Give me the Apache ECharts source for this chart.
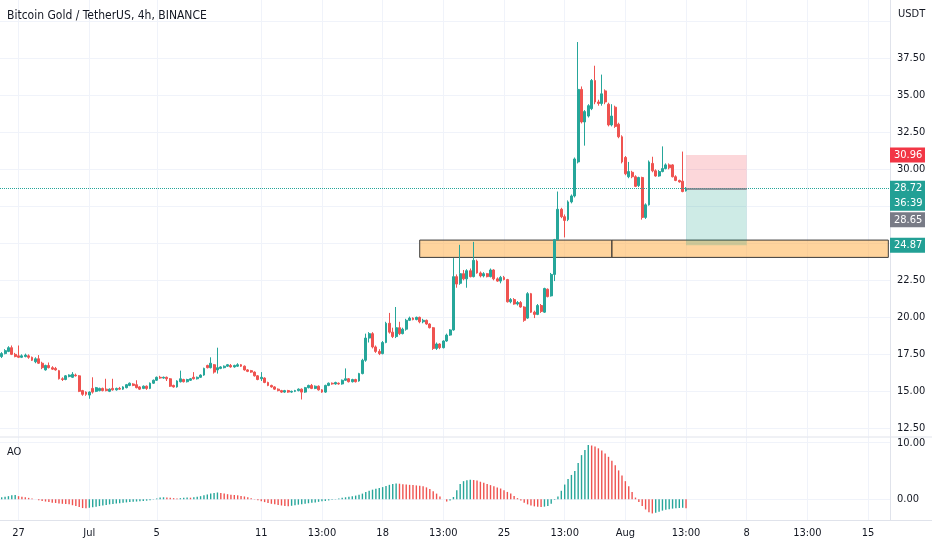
<!DOCTYPE html>
<html><head><meta charset="utf-8">
<script src="https://cdn.jsdelivr.net/npm/echarts@6/dist/echarts.min.js"></script>
<style>html,body{margin:0;padding:0;background:#fff}#c{width:932px;height:550px}</style>
</head><body><div id="c"></div>
<script>
// ---------- data ----------
const titleText = 'Bitcoin Gold / TetherUS, 4h, BINANCE';
const quoteUnit = 'USDT';
const indicatorName = 'AO';

const opens = [17.35,17.55,17.7,17.95,17.5,17.4,17.3,17.35,17.4,17.3, 17.0,17.2,16.9,16.45,16.75,16.6,16.55,16.4,15.85,15.8,
 16.0,15.95,16.1,16.05,15.05,14.95,14.75,15.2,15.0,15.05, 15.2,15.15,15.0,15.2,15.1,15.2,15.15,15.25,15.4,15.5,
 15.45,15.3,15.2,15.35,15.2,15.55,15.75,15.95,15.9,15.95, 15.85,15.4,15.3,15.65,15.8,15.65,15.75,15.95,15.85,15.95,
 16.1,16.75,16.6,16.8,16.45,16.55,16.6,16.7,16.75,16.65, 16.7,16.8,16.7,16.45,16.4,16.3,16.05,15.85,15.9,15.6,
 15.4,15.3,15.15,15.05,14.95,15.05,14.95,15.0,15.05,15.15, 14.95,15.25,15.4,15.2,15.35,15.1,14.95,15.4,15.55,15.5,
 15.55,15.5,15.75,15.85,15.65,15.8,15.7,16.2,17.1,18.6, 18.9,18.0,17.7,17.55,18.3,19.6,19.0,18.7,19.3,18.9,
 19.2,19.8,19.95,19.85,20.0,19.7,19.8,19.55,19.3,17.9, 18.2,17.95,18.4,18.8,19.15,22.75,22.3,22.95,22.6,23.15,
 22.75,23.8,23.0,22.8,22.95,22.75,23.2,22.6,22.45,22.7, 22.55,21.05,21.2,20.9,21.0,20.7,19.95,21.6,20.35,20.2,
 20.8,20.35,21.9,21.45,22.9,25.25,27.3,26.8,26.6,27.8, 28.2,30.5,35.4,33.2,33.6,34.1,36.0,34.55,34.45,35.3,
 34.4,33.0,34.2,33.05,32.2,30.8,29.5,29.8,29.5,28.9, 29.45,26.75,27.6,30.4,29.9,29.55,29.85,30.05,30.3,30.3,
 29.5,29.25,29.2,28.55];
const closes = [17.55,17.75,17.95,17.5,17.35,17.3,17.4,17.45,17.3,17.1, 17.2,16.9,16.6,16.75,16.6,16.5,16.45,15.85,15.8,16.05,
 16.1,16.15,16.05,15.0,14.8,14.8,14.95,14.95,15.25,15.2, 15.05,15.05,15.15,15.1,15.2,15.15,15.3,15.45,15.55,15.4,
 15.25,15.15,15.35,15.2,15.55,15.75,15.95,15.9,15.95,15.85, 15.35,15.3,15.7,15.85,15.65,15.8,15.85,15.85,15.95,16.1,
 16.55,16.6,16.9,16.3,16.6,16.65,16.7,16.8,16.65,16.75, 16.8,16.7,16.45,16.35,16.3,16.05,15.8,15.95,15.6,15.4,
 15.3,15.15,15.05,14.95,15.05,14.95,15.0,15.05,15.15,14.95, 15.25,15.4,15.2,15.35,15.1,14.95,15.4,15.55,15.5,15.6,
 15.5,15.75,15.85,15.65,15.8,15.65,16.2,17.1,18.6,18.9, 18.0,17.7,17.55,18.3,19.6,19.0,18.7,19.3,18.9,19.2,
 19.8,19.95,19.85,20.0,19.7,19.8,19.55,19.3,17.9,18.2, 17.95,18.4,18.8,19.15,22.75,22.25,22.95,22.6,23.15,22.75,
 23.85,23.0,22.8,22.95,22.75,23.2,22.6,22.45,22.7,22.55, 21.05,21.2,20.9,21.0,20.7,19.8,21.6,20.35,20.2,20.8,
 20.4,21.95,21.4,22.9,25.25,27.3,26.8,26.55,27.8,28.2, 30.7,35.4,33.2,33.9,34.3,36.0,34.55,34.45,35.1,34.55,
 33.0,33.6,32.9,32.2,30.5,29.7,29.85,29.5,28.85,29.45, 26.75,27.6,30.5,29.9,29.55,29.85,30.05,30.3,30.1,29.5,
 29.25,29.15,28.5,28.72];
const lows = [17.25,17.5,17.65,17.45,17.3,17.25,17.25,17.3,17.2,17.05, 16.9,16.85,16.5,16.4,16.55,16.45,16.4,15.8,15.7,15.75,
 15.95,15.9,16.0,14.95,14.7,14.7,14.5,14.85,14.95,15.0, 15.0,15.0,14.95,15.05,15.05,15.1,15.1,15.2,15.35,15.35,
 15.2,15.1,15.15,15.1,15.15,15.5,15.7,15.85,15.85,15.7, 15.3,15.25,15.25,15.6,15.6,15.6,15.7,15.8,15.8,15.9,
 16.05,16.55,16.55,16.2,16.2,16.5,16.55,16.65,16.6,16.6, 16.65,16.65,16.4,16.3,16.25,16.0,15.75,15.7,15.55,15.35,
 15.25,15.1,15.0,14.9,14.9,14.9,14.9,14.95,15.0,14.45, 14.9,15.2,15.15,15.15,15.05,14.9,14.9,15.35,15.45,15.45,
 15.45,15.45,15.7,15.6,15.6,15.6,15.65,16.15,17.0,18.3, 17.9,17.6,17.45,17.5,18.25,18.9,18.6,18.6,18.8,18.85,
 19.1,19.75,19.8,19.8,19.6,19.6,19.5,19.25,17.8,17.8, 17.85,17.9,18.35,18.75,19.1,22.0,22.2,22.5,22.0,22.7,
 22.7,22.95,22.7,22.7,22.7,22.7,22.5,22.4,22.3,22.5, 21.0,20.95,20.85,20.8,20.65,19.7,19.9,20.3,19.95,20.15,
 20.3,20.3,21.35,21.4,22.45,25.2,26.7,25.4,26.5,27.7, 28.1,30.4,33.1,31.6,33.5,34.0,34.4,34.3,34.3,34.4,
 32.9,32.9,32.8,32.1,30.4,29.6,29.4,29.4,28.8,28.8, 26.6,26.65,27.55,29.8,29.5,29.5,29.8,30.0,30.0,29.45,
 29.2,29.1,28.45,28.5];
const highs = [17.65,17.85,18.05,18.1,17.6,18.1,17.5,17.55,17.5,17.35, 17.3,17.45,17.0,16.8,16.95,16.7,16.65,16.45,15.95,16.1,
 16.15,16.3,16.2,16.1,15.1,15.0,15.0,15.95,15.3,15.25, 15.25,15.85,15.2,15.85,15.25,15.3,15.35,15.5,15.6,15.55,
 15.75,15.35,15.4,15.4,15.6,15.8,16.0,16.05,16.0,16.0, 15.9,15.45,15.75,16.4,15.85,15.85,15.9,16.3,16.0,16.15,
 16.6,16.8,17.3,16.85,17.95,16.7,16.75,16.85,16.85,16.8, 16.9,16.85,16.75,16.5,16.45,16.35,16.1,16.3,15.95,15.65,
 15.45,15.35,15.2,15.1,15.1,15.1,15.05,15.1,15.2,15.2, 15.3,15.45,15.5,15.4,15.4,15.15,15.45,15.6,15.6,15.65,
 15.6,15.8,16.55,15.9,15.85,15.85,16.25,17.2,18.9,19.0, 19.0,18.1,17.85,18.4,19.7,20.3,19.3,20.7,19.7,19.3,
 19.9,20.05,20.0,20.05,20.05,19.9,19.85,19.6,19.35,18.3, 18.25,18.45,18.9,19.2,24.0,22.9,24.9,23.2,23.25,23.3,
 25.1,23.9,23.1,23.05,23.0,23.3,23.25,22.7,22.8,22.8, 22.6,21.3,21.3,21.1,21.1,20.75,21.7,21.65,20.45,20.9,
 20.9,22.0,21.95,23.0,25.3,28.5,27.4,26.95,27.9,28.3, 30.8,38.6,35.6,34.0,34.4,36.1,37.0,34.7,36.4,35.4,
 34.5,34.4,34.3,33.15,32.3,30.9,30.5,29.9,29.6,29.5, 29.5,27.7,30.6,30.85,30.0,29.95,31.55,30.4,30.4,30.35,
 29.6,29.3,31.2,28.8];
const aoValues = [0.35,0.45,0.55,0.7,0.75,0.55,0.45,0.35,0.25,0.15, 0.0,-0.15,-0.3,-0.4,-0.5,-0.6,-0.65,-0.75,-0.8,-0.85,
 -0.9,-1.05,-1.2,-1.35,-1.55,-1.6,-1.5,-1.4,-1.3,-1.2, -1.1,-1.0,-0.9,-0.85,-0.75,-0.7,-0.6,-0.55,-0.5,-0.45,
 -0.4,-0.35,-0.3,-0.25,-0.15,-0.05,0.15,0.3,0.35,0.3, 0.25,0.2,0.15,0.2,0.25,0.3,0.28,0.35,0.45,0.55,
 0.7,0.85,1.0,1.1,1.2,1.1,1.0,0.9,0.8,0.75, 0.7,0.6,0.5,0.35,0.2,0.05,-0.15,-0.35,-0.5,-0.65,
 -0.8,-0.9,-1.0,-1.1,-1.2,-1.25,-1.15,-1.05,-0.95,-0.9, -0.8,-0.7,-0.6,-0.55,-0.45,-0.35,-0.3,-0.2,-0.1,0.05,
 0.15,0.25,0.35,0.45,0.55,0.65,0.8,1.0,1.3,1.5, 1.7,1.85,2.0,2.15,2.35,2.55,2.7,2.8,2.75,2.65,
 2.6,2.55,2.5,2.45,2.4,2.3,2.1,1.8,1.4,1.0, 0.5,0.0,-0.4,-0.2,0.4,1.6,2.7,3.2,3.35,3.45,
 3.4,3.3,3.1,2.9,2.7,2.5,2.3,2.1,1.9,1.6, 1.3,1.0,0.6,0.2,-0.2,-0.6,-0.9,-1.1,-1.25,-1.3,
 -1.35,-1.3,-1.2,-0.8,-0.1,0.5,1.5,2.6,3.6,4.3, 5.0,6.4,7.8,8.7,9.6,9.5,9.3,9.0,8.6,8.1,
 7.5,6.8,6.0,5.1,4.2,3.2,2.3,1.3,0.3,-0.5, -1.2,-1.8,-2.3,-2.5,-2.4,-2.2,-2.0,-1.85,-1.75,-1.65,
 -1.6,-1.55,-1.5,-1.6];

const totalSlots = 264;             // candle slots incl. empty future space
const tickIndex = [5,26,46,77,95,113,131,149,167,185,203,221,239,257];
const tickText = ['27','Jul','5','11','13:00','18','13:00','25','13:00','Aug','13:00','8','13:00','15'];
const priceGrid = [12.5,15,17.5,20,22.5,25,27.5,30,32.5,35,37.5,40];
const priceLabels = [12.5,15,17.5,20,22.5,25,27.5,30,32.5,35,37.5];
const aoTicks = [0,10];

// drawings
const zoneTop = 25.22, zoneBottom = 24.05;
const zoneStart = 124, zoneSplit = 181, zoneEnd = 263;
const entryStart = 203, entryEnd = 221;
const lastPrice = 28.72, stopPrice = 30.96, targetPrice = 24.87, prevPrice = 28.65;
const countdown = '36:39';

// ---------- chart ----------
const FONT = "'Liberation Sans Narrow','DejaVu Sans Condensed','Liberation Sans',Arial,sans-serif";
const UP = '#26a69a', DOWN = '#ef5350';
const TXT = '#131722', GRIDC = '#f0f3fa', LINEC = '#e0e3eb';
const AXIS_W = 42;

const cats = Array.from({length: totalSlots}, (_, i) => String(i));
const labelMap = {};
tickIndex.forEach((t, k) => labelMap[t] = tickText[k]);
const isTick = (i) => labelMap[i] !== undefined;
const candles = opens.map((o, i) => [o, closes[i], lows[i], highs[i]]);
const aoData = aoValues.map((v, i) => ({value: v, itemStyle: {color: (i > 0 && v < aoValues[i - 1]) ? DOWN : UP}}));

const chart = echarts.init(document.getElementById('c'), null, {renderer: 'canvas'});
const zoneStyle = {color: 'rgba(255,170,60,0.5)', borderColor: '#3b3b3b', borderWidth: 1};

const option = {
  animation: false,
  backgroundColor: '#ffffff',
  textStyle: {fontFamily: FONT},
  title: [
    {text: titleText, left: 7, top: 10, padding: 0, textStyle: {fontSize: 12, fontWeight: 'normal', color: TXT, fontFamily: FONT}},
    {text: indicatorName, left: 7, top: 447, padding: 0, textStyle: {fontSize: 11, fontWeight: 'normal', color: TXT, fontFamily: FONT}}
  ],
  grid: [
    {left: 0, right: AXIS_W, top: 0, height: 436.5, outerBoundsMode: 'none', containLabel: false},
    {left: 0, right: AXIS_W, top: 437, height: 83, outerBoundsMode: 'none', containLabel: false}
  ],
  xAxis: [
    {type: 'category', gridIndex: 0, data: cats, boundaryGap: true,
     axisLine: {show: false}, axisTick: {show: false}, axisLabel: {show: false},
     splitLine: {show: true, interval: (i) => isTick(i), alignWithLabel: true, lineStyle: {color: GRIDC, width: 1}}},
    {type: 'category', gridIndex: 1, data: cats, boundaryGap: true,
     axisLine: {show: false}, axisTick: {show: false},
     axisLabel: {show: true, interval: (i) => isTick(i), formatter: (v, i) => labelMap[i] || '',
                 color: TXT, fontSize: 11, fontFamily: FONT, margin: 8},
     splitLine: {show: true, interval: (i) => isTick(i), alignWithLabel: true, lineStyle: {color: GRIDC, width: 1}}}
  ],
  yAxis: [
    {type: 'value', gridIndex: 0, position: 'right', min: 11.95, max: 41.44,
     axisLine: {show: true, lineStyle: {color: LINEC}},
     axisTick: {show: false, customValues: priceGrid},
     axisLabel: {customValues: priceLabels, formatter: (v) => v.toFixed(2), color: TXT, fontSize: 11, fontFamily: FONT, margin: 7},
     splitLine: {show: true, lineStyle: {color: GRIDC, width: 1}}},
    {type: 'value', gridIndex: 1, position: 'right', min: -3.66, max: 11.0,
     axisLine: {show: true, lineStyle: {color: LINEC}},
     axisTick: {show: false, customValues: aoTicks},
     axisLabel: {customValues: aoTicks, formatter: (v) => v.toFixed(2), color: TXT, fontSize: 11, fontFamily: FONT, margin: 7},
     splitLine: {show: true, lineStyle: {color: GRIDC, width: 1}}}
  ],
  series: [
    {type: 'candlestick', name: 'price', xAxisIndex: 0, yAxisIndex: 0, data: candles, barWidth: 2.4,
     itemStyle: {color: UP, color0: DOWN, borderColor: UP, borderColor0: DOWN, borderWidth: 1},
     markArea: {silent: true, data: [
       [{xAxis: zoneStart, yAxis: zoneTop, itemStyle: zoneStyle}, {xAxis: zoneSplit, yAxis: zoneBottom}],
       [{xAxis: zoneSplit, yAxis: zoneTop, itemStyle: zoneStyle}, {xAxis: zoneEnd, yAxis: zoneBottom}],
       [{xAxis: entryStart, yAxis: stopPrice, itemStyle: {color: 'rgba(242,54,69,0.2)'}}, {xAxis: entryEnd, yAxis: lastPrice}],
       [{xAxis: entryStart, yAxis: lastPrice, itemStyle: {color: 'rgba(8,153,129,0.2)'}}, {xAxis: entryEnd, yAxis: targetPrice}]
     ]},
     markLine: {silent: true, symbol: ['none', 'none'], label: {show: false}, data: [
       {yAxis: lastPrice, lineStyle: {type: 'dotted', color: UP, width: 1}},
       [{coord: [entryStart, lastPrice], lineStyle: {type: 'solid', color: '#787b86', width: 1.5}}, {coord: [entryEnd, lastPrice]}]
     ]}
    },
    {type: 'bar', name: 'AO', xAxisIndex: 1, yAxisIndex: 1, data: aoData, barWidth: 1.4}
  ]
};
chart.setOption(option);

// price tags on the right scale, positioned through the axis scale
const axisX = chart.getWidth() - AXIS_W;
const tags = [
  {price: stopPrice, lines: [stopPrice.toFixed(2)], bg: '#f23645'},
  {price: lastPrice, lines: [lastPrice.toFixed(2), countdown], bg: '#22a095'},
  {price: prevPrice, lines: [prevPrice.toFixed(2)], bg: '#787b86'},
  {price: targetPrice, lines: [targetPrice.toFixed(2)], bg: '#22a095'}
];
const els = [];
let prevBottom = -1e9;
tags.forEach((t) => {
  const y = chart.convertToPixel({yAxisIndex: 0}, t.price);
  const lh = 15, h = lh * t.lines.length;
  let top = y - lh / 2;
  if (top < prevBottom + 1.5) top = prevBottom + 1.5;
  prevBottom = top + h;
  els.push({type: 'rect', z: 100, shape: {x: axisX, y: top, width: 35, height: h}, style: {fill: t.bg}});
  t.lines.forEach((s, k) => els.push({type: 'text', z: 101, x: axisX + 4, y: top + lh / 2 + k * lh,
    style: {text: s, fill: '#ffffff', font: '11px ' + FONT, verticalAlign: 'middle'}}));
});
const W = chart.getWidth();
els.push({type: 'text', z: 101, x: axisX + 8, y: 14, style: {text: quoteUnit, fill: TXT, font: '11px ' + FONT, verticalAlign: 'middle'}});
els.push({type: 'line', z: 50, shape: {x1: 0, y1: 437, x2: W, y2: 437}, style: {stroke: LINEC, lineWidth: 1}});
els.push({type: 'line', z: 50, shape: {x1: 0, y1: 520.5, x2: W, y2: 520.5}, style: {stroke: LINEC, lineWidth: 1}});
chart.setOption({graphic: els});
</script></body></html>
